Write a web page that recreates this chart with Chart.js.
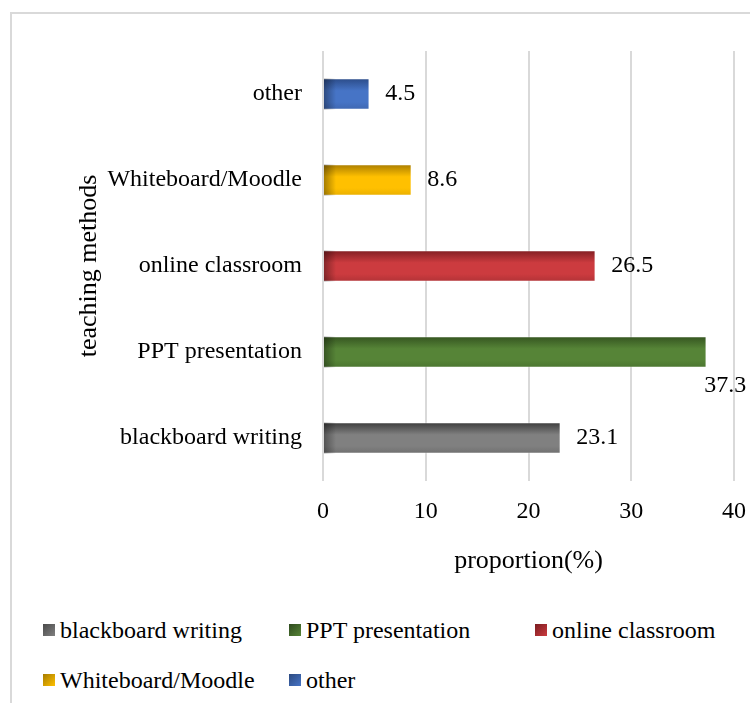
<!DOCTYPE html>
<html>
<head>
<meta charset="utf-8">
<script src="https://cdn.jsdelivr.net/npm/chart.js@4.4.1/dist/chart.umd.min.js"></script>
<style>
  html, body { margin: 0; padding: 0; background: #fff; }
  #wrap { position: relative; width: 750px; height: 703px; overflow: hidden; }
  #frame { position: absolute; left: 10px; top: 12px; right: -10px; bottom: -10px;
           border-top: 2px solid #d9d9d9; border-left: 2px solid #d9d9d9; }
  #c { position: absolute; left: 0; top: 0; }
  .lg { position: absolute; font: 24px "Liberation Serif", "Times New Roman", serif; color: #000;
        white-space: nowrap; line-height: 28px; }
  .lg i { position: absolute; left: -17px; top: 8px; width: 12px; height: 12px; }
</style>
</head>
<body>
<div id="wrap">
  <div id="frame"></div>
  <canvas id="c" width="750" height="600"></canvas>
  <div id="legend"></div>
</div>
<script>
// данные
const categories = ['blackboard writing', 'PPT presentation', 'online classroom', 'Whiteboard/Moodle', 'other'];
const proportions = [23.1, 37.3, 26.5, 8.6, 4.5];
const xTicks = [0, 10, 20, 30, 40];

// цвета: тёмный край, середина, низ
const barTop = ['#3a3a3a', '#33521f', '#7e1d21', '#a67a00', '#2a4a86'];
const barMid = ['#808080', '#568437', '#cc3b3f', '#ffc000', '#4674c6'];
const barBot = ['#6f6f6f', '#4b7530', '#b03236', '#e8ae00', '#3f67b0'];
const swatch = ['#4a4a4a', '#2e4a1e', '#7a1c20', '#a67c00', '#2c4a80'];

const font = '"Liberation Serif", "Times New Roman", serif';

function barFill(ctx) {
  const chart = ctx.chart;
  const i = ctx.dataIndex;
  const y = chart.scales.y;
  if (!chart.chartArea || !y || y.getPixelForValue(i) == null || isNaN(y.getPixelForValue(i))) return barMid[i];
  const yc = y.getPixelForValue(i);
  const g = chart.ctx.createLinearGradient(0, yc - 16, 0, yc + 16);
  g.addColorStop(0, barTop[i]);
  g.addColorStop(0.4, barMid[i]);
  g.addColorStop(0.75, barMid[i]);
  g.addColorStop(1, barBot[i]);
  return g;
}

// подписи значений и затенение левого края
const valueLabels = {
  id: 'valueLabels',
  afterDatasetsDraw(chart) {
    const c = chart.ctx;
    const meta = chart.getDatasetMeta(0);
    meta.data.forEach((bar, i) => {
      const left = bar.base;
      const sh = c.createLinearGradient(left, 0, left + 12, 0);
      sh.addColorStop(0, 'rgba(0,0,0,0.35)');
      sh.addColorStop(1, 'rgba(0,0,0,0)');
      c.fillStyle = sh;
      c.fillRect(left, bar.y - bar.height / 2, Math.min(12, bar.x - left), bar.height);
    });
    c.save();
    c.font = '24px ' + font;
    c.fillStyle = '#000';
    c.textBaseline = 'middle';
    c.textAlign = 'left';
    meta.data.forEach((bar, i) => {
      const txt = String(proportions[i]);
      const w = c.measureText(txt).width;
      if (bar.x + 16 + w > chart.width) {
        c.fillText(txt, bar.x - 2, bar.y + bar.height / 2 + 18);
      } else {
        c.fillText(txt, bar.x + 16, bar.y);
      }
    });
    c.restore();
  }
};

new Chart(document.getElementById('c'), {
  type: 'bar',
  data: {
    labels: categories,
    datasets: [{
      label: 'proportion',
      data: proportions,
      backgroundColor: barFill,
      borderColor: 'rgba(255,255,255,0.35)',
      borderWidth: 1,
      borderSkipped: 'left',
      barThickness: 31
    }]
  },
  options: {
    indexAxis: 'y',
    responsive: false,
    animation: false,
    layout: { padding: { top: 51, right: 16, left: 64, bottom: 0 } },
    plugins: { legend: { display: false }, tooltip: { enabled: false } },
    scales: {
      x: {
        min: 0, max: 40,
        afterBuildTicks: s => { s.ticks = xTicks.map(v => ({ value: v })); },
        afterFit: s => { s.height = 119; s.paddingRight = 0; s.paddingLeft = 0; },
        grid: { color: '#d9d9d9', lineWidth: 2, drawTicks: false },
        border: { display: false },
        ticks: { padding: 16, color: '#000', font: { family: font, size: 24 } },
        title: { display: true, text: 'proportion(%)', color: '#000', padding: { top: 0, bottom: 23 },
                 font: { family: font, size: 26 } }
      },
      y: {
        reverse: true,
        afterFit: s => { s.width = 259; },
        grid: { display: false },
        border: { display: false },
        ticks: { padding: 13, color: '#000', font: { family: font, size: 24 } },
        title: { display: true, text: 'teaching methods', color: '#000', padding: { top: 10 },
                 font: { family: font, size: 26 } }
      }
    }
  },
  plugins: [valueLabels]
});

// легенда
const cols = [60, 306, 552];
const rows = [616, 666];
const lg = document.getElementById('legend');
categories.forEach((name, i) => {
  const d = document.createElement('div');
  d.className = 'lg';
  d.style.left = cols[i % 3] + 'px';
  d.style.top = rows[Math.floor(i / 3)] + 'px';
  d.innerHTML = '<i style="background:linear-gradient(135deg,' + swatch[i] + ',' + barMid[i] + ')"></i>' + name;
  lg.appendChild(d);
});
</script>
</body>
</html>
